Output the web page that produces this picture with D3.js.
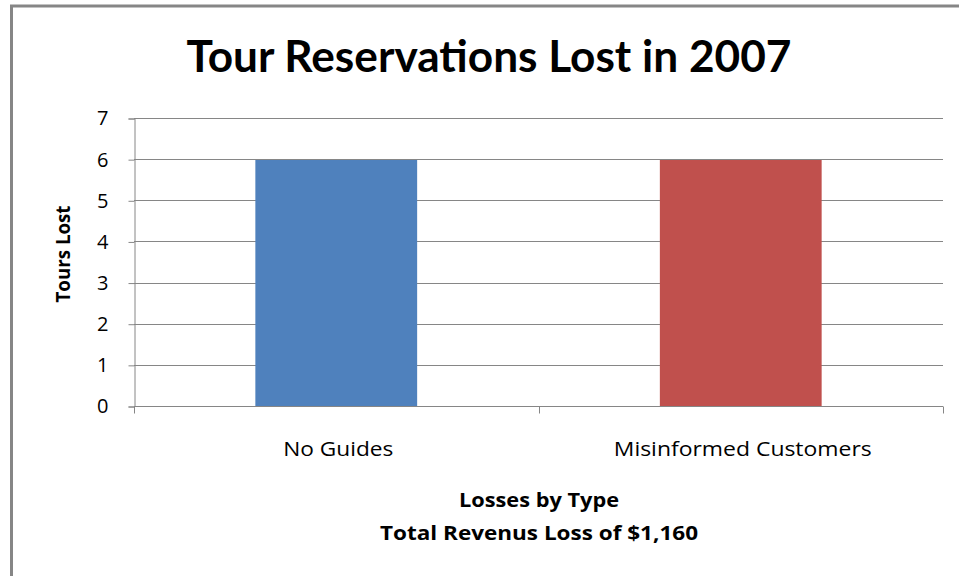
<!DOCTYPE html>
<html>
<head>
<meta charset="utf-8">
<script src="https://cdn.jsdelivr.net/npm/d3@7"></script>
<style>
  body { margin: 0; background: #fff; }
  text { font-family: "Open Sans", Lato, sans-serif; fill: #000; }
</style>
</head>
<body>
<div id="chart"></div>
<script>
// chart data
var categories = ["No Guides", "Misinformed Customers"];
var toursLost = [6, 6];
var barColors = ["#4F81BD", "#C0504D"];
var yTicks = [0, 1, 2, 3, 4, 5, 6, 7];
var title = "Tour Reservations Lost in 2007";
var xTitle = ["Losses by Type", "Total Revenus Loss of $1,160"];
var yTitle = "Tours Lost";

var W = 959, H = 576;
var plot = {left: 134, right: 943, top: 118, bottom: 406};

var svg = d3.select("#chart").append("svg")
  .attr("width", W)
  .attr("height", H);

// stretch a text to the width it has in the original
function fitWidth(sel, w) {
  sel.attr("textLength", w).attr("lengthAdjust", "spacingAndGlyphs");
}

// outer chart frame (cropped at right and bottom)
svg.append("rect")
  .attr("x", 11.5).attr("y", 6)
  .attr("width", W + 10).attr("height", H + 10)
  .attr("fill", "#fff")
  .attr("stroke", "#868686")
  .attr("stroke-width", 3);

var x = d3.scaleBand()
  .domain(categories)
  .range([plot.left, plot.right]);

var y = d3.scaleLinear()
  .domain([0, 7])
  .range([plot.bottom, plot.top]);

// gridlines
svg.append("g")
  .selectAll("line")
  .data(yTicks.filter(function(d) { return d > 0; }))
  .enter().append("line")
  .attr("x1", plot.left).attr("x2", plot.right)
  .attr("y1", function(d) { return Math.round(y(d)) + 0.5; })
  .attr("y2", function(d) { return Math.round(y(d)) + 0.5; })
  .attr("stroke", "#868686");

// bars, 40% of the band
svg.append("g")
  .selectAll("rect")
  .data(toursLost)
  .enter().append("rect")
  .attr("x", function(d, i) { return x(categories[i]) + x.bandwidth() * 0.3; })
  .attr("width", x.bandwidth() * 0.4)
  .attr("y", function(d) { return Math.round(y(d)) + 1; })
  .attr("height", function(d) { return plot.bottom - Math.round(y(d)) - 1; })
  .attr("fill", function(d, i) { return barColors[i]; });

// y axis
var yAxis = svg.append("g")
  .attr("transform", "translate(" + (plot.left + 0.5) + ",0.5)")
  .call(d3.axisLeft(y).tickValues(yTicks).tickFormat(d3.format("d")).tickSize(6).tickPadding(20));
yAxis.selectAll("line, path").attr("stroke", "#868686");
yAxis.selectAll("text")
  .style("font-size", "20px")
  .style("font-family", "'Open Sans', sans-serif")
  .attr("fill", "#000");

// x axis with ticks between categories
var xAxis = svg.append("g")
  .attr("transform", "translate(0," + (plot.bottom + 0.5) + ")");
xAxis.append("line")
  .attr("x1", plot.left).attr("x2", plot.right)
  .attr("stroke", "#868686");
xAxis.selectAll("line.tick")
  .data([plot.left, (plot.left + plot.right) / 2, plot.right])
  .enter().append("line")
  .attr("class", "tick")
  .attr("x1", function(d) { return Math.round(d) + 0.5; })
  .attr("x2", function(d) { return Math.round(d) + 0.5; })
  .attr("y1", 0).attr("y2", 7)
  .attr("stroke", "#868686");
var labelWidths = [110, 258];
xAxis.selectAll("text")
  .data(categories)
  .enter().append("text")
  .attr("x", function(d) { return x(d) + x.bandwidth() / 2 + 2; })
  .attr("y", 49)
  .attr("text-anchor", "middle")
  .style("font-size", "20px")
  .text(function(d) { return d; })
  .each(function(d, i) { fitWidth(d3.select(this), labelWidths[i]); });

// titles
svg.append("text")
  .attr("x", 489).attr("y", 72)
  .attr("text-anchor", "middle")
  .style("font-family", "Lato, sans-serif")
  .style("font-size", "44px")
  .style("font-weight", "bold")
  .text(title)
  .call(fitWidth, 605);

svg.append("text")
  .attr("transform", "translate(70,254) rotate(-90)")
  .attr("text-anchor", "middle")
  .style("font-size", "19px")
  .style("font-weight", "bold")
  .text(yTitle)
  .call(fitWidth, 97);

var xTitleWidths = [160, 318];
svg.selectAll("text.xtitle")
  .data(xTitle)
  .enter().append("text")
  .attr("class", "xtitle")
  .attr("x", 539)
  .attr("y", function(d, i) { return 507 + i * 33; })
  .attr("text-anchor", "middle")
  .style("font-size", "19px")
  .style("font-weight", "bold")
  .text(function(d) { return d; })
  .each(function(d, i) { fitWidth(d3.select(this), xTitleWidths[i]); });
</script>
</body>
</html>
